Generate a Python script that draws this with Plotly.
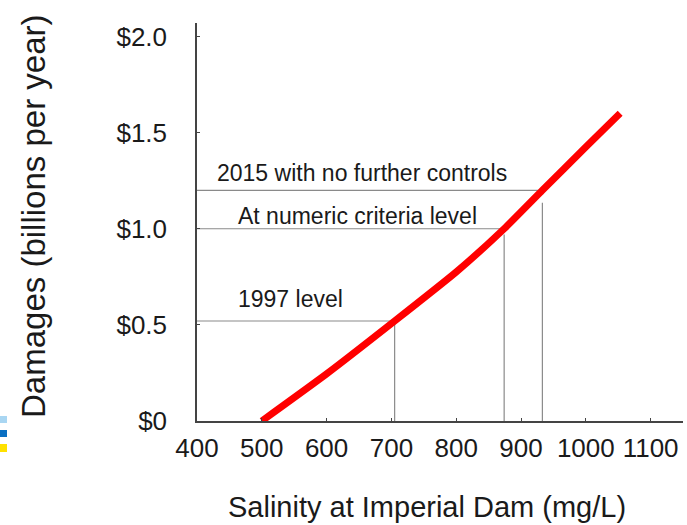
import plotly.graph_objects as go

# Data
salinity = [500, 600, 705, 800, 874, 933, 1000, 1053]
damages = [0.0, 0.245, 0.52, 0.775, 1.0, 1.2, 1.425, 1.6]

levels = ["1997 level", "At numeric criteria level", "2015 with no further controls"]
level_salinity = [705, 874, 933]
level_damage = [0.52, 1.0, 1.2]
vline_top = [0.52, 0.97, 1.135]
label_pos_x = [544, 647, 655]
label_pos_y = [0.635, 1.068, 1.29]

x_ticks = [400, 500, 600, 700, 800, 900, 1000, 1100]
y_ticks = [0, 0.5, 1.0, 1.5, 2.0]
y_ticklabels = ["$0", "$0.5", "$1.0", "$1.5", "$2.0"]

W, H = 687, 525
L, T = 197, 23
R = W - 683
B = H - 421
pw = W - L - R
ph = H - T - B


def px_x(page_x):
    return (page_x - L) / pw


def px_y(page_y):
    return (H - B - page_y) / ph


fig = go.Figure()

# reference lines
for name, xs, yd, yt in zip(levels, level_salinity, level_damage, vline_top):
    fig.add_trace(go.Scatter(x=[400, xs], y=[yd, yd], mode="lines",
                             line=dict(color="#8a8a8a", width=1.2),
                             hoverinfo="skip", showlegend=False))
    fig.add_trace(go.Scatter(x=[xs, xs], y=[0, yt], mode="lines",
                             line=dict(color="#8a8a8a", width=1.2),
                             hoverinfo="skip", showlegend=False))

fig.add_trace(go.Scatter(x=salinity, y=damages, mode="lines",
                         line=dict(color="#ff0000", width=7, shape="spline", smoothing=0.5),
                         name="Damages", showlegend=False))

font_family = "Liberation Sans, Arial, sans-serif"
txt = "#1a1a1a"

annotations = []
for name, ax_, ay_ in zip(levels, label_pos_x, label_pos_y):
    annotations.append(dict(x=ax_, y=ay_, xref="x", yref="y", text=name,
                            showarrow=False, xanchor="center", yanchor="middle",
                            font=dict(size=23, color=txt, family=font_family)))

# axis titles placed at their pixel positions
annotations.append(dict(x=px_x(427), y=px_y(507), xref="paper", yref="paper",
                        text="Salinity at Imperial Dam (mg/L)", showarrow=False,
                        xanchor="center", yanchor="middle",
                        font=dict(size=29, color=txt, family=font_family)))
annotations.append(dict(x=px_x(33), y=px_y(216), xref="paper", yref="paper",
                        text="Damages (billions per year)", showarrow=False, textangle=-90,
                        xanchor="center", yanchor="middle",
                        font=dict(size=33, color=txt, family=font_family)))

shapes = []
for color, y0, y1 in [("#a9d6f2", 416, 423), ("#0a6fc2", 430, 437), ("#ffe100", 444, 452)]:
    shapes.append(dict(type="rect", xref="paper", yref="paper",
                       x0=px_x(0), x1=px_x(7),
                       y0=px_y(y1), y1=px_y(y0),
                       fillcolor=color, line=dict(width=0)))

fig.update_layout(
    width=W, height=H,
    margin=dict(l=L, r=R, t=T, b=B, pad=0, autoexpand=False),
    plot_bgcolor="white", paper_bgcolor="white",
    annotations=annotations, shapes=shapes,
    font=dict(family=font_family, color=txt),
)
fig.update_xaxes(range=[400, 1150], tickvals=x_ticks, showgrid=False, zeroline=False,
                 showline=True, linecolor="#444", linewidth=1.5, automargin=False,
                 ticks="inside", ticklen=3, tickcolor="#444",
                 tickfont=dict(size=26, color=txt), ticklabelstandoff=3)
fig.update_yaxes(range=[0, 2.07], tickvals=y_ticks, ticktext=y_ticklabels,
                 showgrid=False, zeroline=False, automargin=False,
                 showline=True, linecolor="#444", linewidth=1.5,
                 ticks="inside", ticklen=3, tickcolor="#444",
                 tickfont=dict(size=26, color=txt), ticklabelstandoff=23)

fig.write_html("out.html", config={"displayModeBar": False},
               post_script="document.body.style.margin='0';document.body.style.overflow='hidden';")
